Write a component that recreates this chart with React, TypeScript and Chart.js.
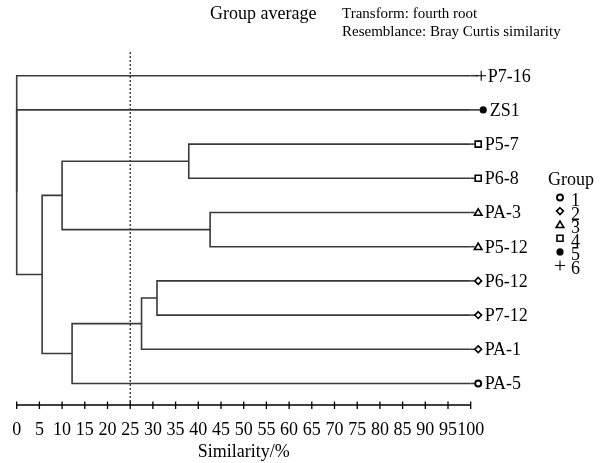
import React, { useEffect, useRef } from "react";
import { Chart, registerables } from "chart.js";

Chart.register(...registerables);

const leafLabels = ["P7-16", "ZS1", "P5-7", "P6-8", "PA-3", "P5-12", "P6-12", "P7-12", "PA-1", "PA-5"];
const leafGroups = [6, 5, 4, 4, 3, 3, 2, 2, 2, 1];
// merges: node ids 0..9 are leaves, 10+ are clusters in order
const mergeLeft = [2, 4, 10, 6, 13, 14, 12, 1, 0];
const mergeRight = [3, 5, 11, 7, 8, 9, 15, 16, 17];
const mergeSimilarity = [37.9, 42.6, 10.0, 30.9, 27.5, 12.2, 5.6, 0, 0];
const xTicks = [0, 5, 10, 15, 20, 25, 30, 35, 40, 45, 50, 55, 60, 65, 70, 75, 80, 85, 90, 95, 100];
const cutoffSimilarity = 25;
const legendGroups = [1, 2, 3, 4, 5, 6];
const titleText = "Group average";
const subtitleLines = ["Transform: fourth root", "Resemblance: Bray Curtis similarity"];
const xAxisTitle = "Similarity/%";

const FONT = '"Liberation Serif", "Times New Roman", serif';
const LINE_COLOR = "#3a3a3a";

function drawMarker(ctx: CanvasRenderingContext2D, group: number, x: number, y: number) {
  ctx.save();
  ctx.strokeStyle = "#000";
  ctx.fillStyle = "#000";
  ctx.lineWidth = 1.6;
  ctx.beginPath();
  if (group === 1) {
    ctx.arc(x, y, 3, 0, Math.PI * 2);
    ctx.lineWidth = 1.9;
    ctx.stroke();
  } else if (group === 2) {
    const r = 3.4;
    ctx.moveTo(x, y - r);
    ctx.lineTo(x + r, y);
    ctx.lineTo(x, y + r);
    ctx.lineTo(x - r, y);
    ctx.closePath();
    ctx.stroke();
  } else if (group === 3) {
    ctx.moveTo(x, y - 3.6);
    ctx.lineTo(x + 3.8, y + 2.8);
    ctx.lineTo(x - 3.8, y + 2.8);
    ctx.closePath();
    ctx.stroke();
  } else if (group === 4) {
    ctx.rect(x - 3, y - 3, 6, 6);
    ctx.stroke();
  } else if (group === 5) {
    ctx.arc(x, y, 3.6, 0, Math.PI * 2);
    ctx.fill();
  } else {
    ctx.lineWidth = 1.1;
    ctx.moveTo(x - 5, y);
    ctx.lineTo(x + 5, y);
    ctx.moveTo(x, y - 5);
    ctx.lineTo(x, y + 5);
    ctx.stroke();
  }
  ctx.restore();
}

function buildTree() {
  const n = leafLabels.length;
  const nodeX: number[] = [];
  const nodeY: number[] = [];
  for (let i = 0; i < n; i++) {
    nodeX.push(100);
    nodeY.push(i);
  }
  const segments: { x: number; y: number }[][] = [];
  for (let m = 0; m < mergeSimilarity.length; m++) {
    const a = mergeLeft[m];
    const b = mergeRight[m];
    const s = mergeSimilarity[m];
    segments.push([
      { x: nodeX[a], y: nodeY[a] },
      { x: s, y: nodeY[a] },
      { x: s, y: nodeY[b] },
      { x: nodeX[b], y: nodeY[b] },
    ]);
    nodeX.push(s);
    nodeY.push((nodeY[a] + nodeY[b]) / 2);
  }
  return segments;
}

export default function App() {
  const ref = useRef<HTMLCanvasElement>(null);

  useEffect(() => {
    const canvas = ref.current;
    if (!canvas) return;
    const segments = buildTree();
    const datasets: any[] = segments.map((seg) => ({
      data: seg,
      showLine: true,
      borderColor: LINE_COLOR,
      borderWidth: 1.6,
      pointRadius: 0,
      fill: false,
      tension: 0,
      clip: false,
    }));
    datasets.push({
      data: [
        { x: cutoffSimilarity, y: -0.693 },
        { x: cutoffSimilarity, y: 9.629 },
      ],
      showLine: true,
      borderColor: "#000",
      borderWidth: 1.1,
      borderDash: [2, 2],
      pointRadius: 0,
      fill: false,
      clip: false,
    });

    const overlay = {
      id: "overlay",
      afterDraw(chart: any) {
        const ctx: CanvasRenderingContext2D = chart.ctx;
        const xs = chart.scales.x;
        const ys = chart.scales.y;
        const area = chart.chartArea;
        ctx.save();
        // axis
        const axY = area.bottom;
        ctx.strokeStyle = "#000";
        ctx.lineWidth = 1.5;
        ctx.beginPath();
        ctx.moveTo(xs.getPixelForValue(0), axY);
        ctx.lineTo(xs.getPixelForValue(100), axY);
        ctx.stroke();
        ctx.lineWidth = 1.3;
        ctx.beginPath();
        for (const t of xTicks) {
          const px = xs.getPixelForValue(t);
          ctx.moveTo(px, axY - 3.5);
          ctx.lineTo(px, axY + 4);
        }
        ctx.stroke();
        ctx.fillStyle = "#000";
        ctx.font = `18px ${FONT}`;
        ctx.textAlign = "center";
        ctx.textBaseline = "alphabetic";
        for (const t of xTicks) {
          ctx.fillText(String(t), xs.getPixelForValue(t), axY + 30);
        }
        ctx.fillText(xAxisTitle, (xs.getPixelForValue(0) + xs.getPixelForValue(100)) / 2, axY + 52);

        // leaf markers and labels
        ctx.textAlign = "left";
        const endX = xs.getPixelForValue(100);
        for (let i = 0; i < leafLabels.length; i++) {
          const py = ys.getPixelForValue(i);
          const g = leafGroups[i];
          const shift = g === 5 ? 5 : g === 6 ? 3 : 0;
          ctx.strokeStyle = LINE_COLOR;
          ctx.lineWidth = 1.6;
          ctx.beginPath();
          ctx.moveTo(endX, py);
          ctx.lineTo(endX + 4 + shift, py);
          ctx.stroke();
          drawMarker(ctx, g, endX + 7.5 + shift, py);
          ctx.fillStyle = "#000";
          ctx.fillText(leafLabels[i], endX + 14 + shift, py + 6);
        }

        // legend
        ctx.fillText("Group", 548, 185);
        for (let k = 0; k < legendGroups.length; k++) {
          const by = 206 + k * 13.6;
          drawMarker(ctx, legendGroups[k], 560, by - 8.5);
          ctx.fillStyle = "#000";
          ctx.fillText(String(legendGroups[k]), 571, by);
        }

        // titles
        ctx.font = `18px ${FONT}`;
        ctx.fillText(titleText, 210, 18.5);
        ctx.font = `15px ${FONT}`;
        ctx.fillText(subtitleLines[0], 342, 18);
        ctx.fillText(subtitleLines[1], 342, 36);
        ctx.restore();
      },
    };

    const chart = new Chart(canvas, {
      type: "scatter",
      data: { datasets },
      options: {
        animation: false,
        responsive: false,
        maintainAspectRatio: false,
        layout: { padding: { left: 16.7, right: 132.3, top: 52, bottom: 58 } },
        plugins: { legend: { display: false }, tooltip: { enabled: false }, title: { display: false } },
        scales: {
          x: { type: "linear", min: 0, max: 100, display: false },
          y: { type: "linear", min: -0.693, max: 9.629, reverse: true, display: false },
        },
      },
      plugins: [overlay],
    });
    return () => chart.destroy();
  }, []);

  return (
    <div style={{ position: "fixed", left: 0, top: 0, width: 603, height: 463, background: "#fff" }}>
      <canvas ref={ref} width={603} height={463} style={{ display: "block", width: 603, height: 463 }} />
    </div>
  );
}
